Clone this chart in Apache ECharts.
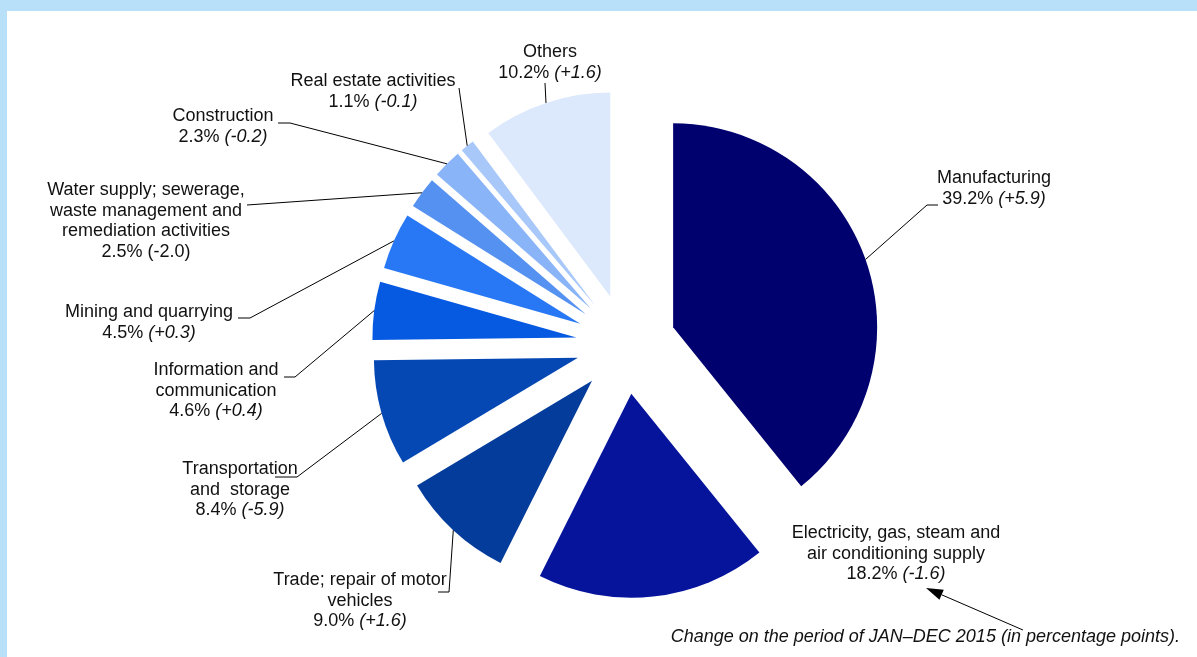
<!DOCTYPE html>
<html><head><meta charset="utf-8">
<script src="https://cdn.jsdelivr.net/npm/echarts@6/dist/echarts.min.js"></script>
<style>html,body{margin:0;padding:0;background:#fff}#c{width:1197px;height:657px}</style>
</head><body><div id="c"></div>
<script>
// ---- data ----
const categories = [
  'Manufacturing',
  'Electricity, gas, steam and\nair conditioning supply',
  'Trade; repair of motor\nvehicles',
  'Transportation\nand  storage',
  'Information and\ncommunication',
  'Mining and quarrying',
  'Water supply; sewerage,\nwaste management and\nremediation activities',
  'Construction',
  'Real estate activities',
  'Others'
];
const shares = [39.2, 18.2, 9.0, 8.4, 4.6, 4.5, 2.5, 2.3, 1.1, 10.2];
const changes = ['+5.9', '-1.6', '+1.6', '-5.9', '+0.4', '+0.3', '-2.0', '-0.2', '-0.1', '+1.6'];
const footnote = 'Change on the period of JAN\u2013DEC 2015 (in percentage points).';

// ---- styles / layout ----
const colors = ['#00006e', '#05149b', '#033c9b', '#0548b4', '#055ae1', '#2878f5', '#5591f0', '#8ab4f8', '#a8c8fa', '#dce8fc'];
const italicChange = [true, true, true, true, true, true, false, true, true, true];
const labelPlacement = [
  {x: 994, y: 168, guide: [[927, 205], [938, 205]]},
  {x: 896, y: 523, guide: null},
  {x: 360, y: 570, guide: [[449, 592], [438, 592]]},
  {x: 240, y: 459, guide: [[297, 477], [275, 477]]},
  {x: 216, y: 360, guide: [[295, 377], [284, 377]]},
  {x: 149, y: 302, guide: [[250, 318], [238, 318]]},
  {x: 146, y: 180, guide: [[247, 205]]},
  {x: 223, y: 106, guide: [[290, 123], [278, 123]]},
  {x: 373, y: 71, guide: [[459, 88]]},
  {x: 550, y: 42, guide: [[545, 83]]}
];
const PIE_CENTER = [626, 344];
const PIE_RADIUS = 204;
const EXPLODE = 50;
const FONT = '"Liberation Sans", Arial, sans-serif';

const chart = echarts.init(document.getElementById('c'), null, {renderer: 'canvas'});

function fmt(p) {
  const i = p.dataIndex;
  const lines = categories[i].split('\n').map(s => '{n|' + s + '}');
  const ch = '(' + changes[i] + ')';
  lines.push('{n|' + shares[i].toFixed(1) + '% }' + (italicChange[i] ? '{i|' + ch + '}' : '{n|' + ch + '}'));
  return lines.join('\n');
}

// arrow pointing to change value
const tail = [1023, 630], tip = [926, 588];
const dx = tip[0] - tail[0], dy = tip[1] - tail[1], L = Math.hypot(dx, dy);
const ux = dx / L, uy = dy / L, hl = 17, hw = 5.5;
const base = [tip[0] - ux * hl, tip[1] - uy * hl];

const pieCommon = {
  type: 'pie',
  center: PIE_CENTER,
  radius: [0, PIE_RADIUS],
  startAngle: 90,
  clockwise: true,
  avoidLabelOverlap: false,
  emphasis: {disabled: true}
};

const option = {
  backgroundColor: '#ffffff',
  animation: false,
  graphic: [
    {type: 'rect', shape: {x: 0, y: 0, width: 1197, height: 11}, style: {fill: '#b8e0f8'}, z: 0},
    {type: 'rect', shape: {x: 0, y: 0, width: 7, height: 657}, style: {fill: '#b8e0f8'}, z: 0},
    {type: 'text', right: 17, top: 628, style: {text: footnote, font: 'italic 18px ' + FONT, fill: '#111'}},
    {type: 'line', shape: {x1: tail[0], y1: tail[1], x2: base[0], y2: base[1]}, style: {stroke: '#000', lineWidth: 1}},
    {type: 'polygon', shape: {points: [tip, [base[0] - uy * hw, base[1] + ux * hw], [base[0] + uy * hw, base[1] - ux * hw]]}, style: {fill: '#000'}}
  ],
  series: [
    // exploded slices
    Object.assign({}, pieCommon, {
      selectedMode: 'multiple',
      selectedOffset: EXPLODE,
      label: {show: false},
      labelLine: {show: false},
      data: categories.map((c, i) => ({
        name: c, value: shares[i], selected: true,
        itemStyle: {color: colors[i]}
      }))
    }),
    // labels and leader lines (same layout, invisible sectors)
    Object.assign({}, pieCommon, {
      silent: true,
      z: 3,
      itemStyle: {color: 'rgba(0,0,0,0)'},
      data: categories.map((c, i) => ({
        name: c, value: shares[i],
        labelLine: {show: labelPlacement[i].guide !== null}
      })),
      label: {
        show: true, position: 'outside', formatter: fmt, align: 'center', opacity: 1,
        rich: {
          n: {fontSize: 18, lineHeight: 20.5, fontFamily: FONT, color: '#111', align: 'center'},
          i: {fontSize: 18, lineHeight: 20.5, fontFamily: FONT, color: '#111', fontStyle: 'italic', align: 'center'}
        }
      },
      labelLine: {show: true, length: 10, length2: 10, lineStyle: {color: '#000', width: 1, opacity: 1}},
      labelLayout: function (p) {
        const lp = labelPlacement[p.dataIndex];
        const res = {x: lp.x, y: lp.y, align: 'center', verticalAlign: 'top'};
        if (lp.guide && p.labelLinePoints) {
          const a = p.labelLinePoints[0];
          const vx = a[0] - PIE_CENTER[0], vy = a[1] - PIE_CENTER[1];
          const len = Math.hypot(vx, vy) || 1;
          const start = [a[0] + vx / len * EXPLODE, a[1] + vy / len * EXPLODE];
          res.labelLinePoints = [start].concat(lp.guide);
        }
        return res;
      }
    })
  ]
};
chart.setOption(option);
</script></body></html>
